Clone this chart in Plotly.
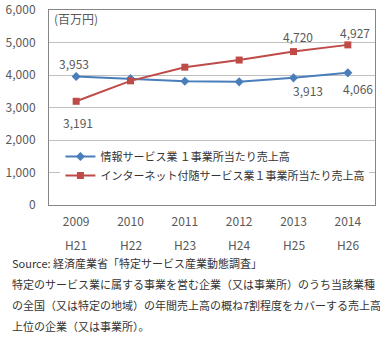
import plotly.graph_objects as go

years = ["2009", "2010", "2011", "2012", "2013", "2014"]
eras = ["H21", "H22", "H23", "H24", "H25", "H26"]
info_service = [3953, 3890, 3810, 3790, 3913, 4066]
internet_service = [3191, 3820, 4240, 4460, 4720, 4927]
info_name = "情報サービス業 １事業所当たり売上高"
internet_name = "インターネット付随サービス業１事業所当たり売上高"
source_lines = [
    "Source: 経済産業省「特定サービス産業動態調査」",
    "特定のサービス業に属する事業を営む企業（又は事業所）のうち当該業種",
    "の全国（又は特定の地域）の年間売上高の概ね7割程度をカバーする売上高",
    "上位の企業（又は事業所）。",
]

FONT = "Noto Sans CJK JP"
BLUE = "#4A7EBB"
RED = "#BE4B48"
TICK = "#595959"

TOP, BOTTOM = 10, 136
PLOT_H = 341 - TOP - BOTTOM
AXIS_Y = 341 - BOTTOM  # pixel row of the x axis

fig = go.Figure()
fig.add_trace(go.Scatter(
    x=years, y=info_service, name=info_name, mode="lines+markers",
    line=dict(color=BLUE, width=2),
    marker=dict(symbol="diamond", size=7, color=BLUE),
))
fig.add_trace(go.Scatter(
    x=years, y=internet_service, name=internet_name, mode="lines+markers",
    line=dict(color=RED, width=2),
    marker=dict(symbol="square", size=7, color=RED),
))

# value labels: (series, index, xshift, yshift); x uses the category index
labels = [
    (info_service, 0, -2, 13),
    (internet_service, 0, 2, -21),
    (internet_service, 4, 4, 15),
    (internet_service, 5, 7, 12),
    (info_service, 4, 14, -13),
    (info_service, 5, 10, -16),
]
ann = []
for series, i, dx, dy in labels:
    ann.append(dict(xref="x", yref="y", x=i, y=series[i], text=f"{series[i]:,}",
                    showarrow=False, xshift=dx, yshift=dy,
                    font=dict(family=FONT, size=12, color=TICK)))

# era row under the year ticks
for i, e in enumerate(eras):
    ann.append(dict(xref="x", yref="paper", x=i, y=(AXIS_Y - 244) / PLOT_H, text=e,
                    showarrow=False, yanchor="middle",
                    font=dict(family=FONT, size=12, color=TICK)))

ann.append(dict(xref="paper", yref="paper", x=0.01, y=(AXIS_Y - 19) / PLOT_H,
                xanchor="left", yanchor="middle", text="(百万円)", showarrow=False,
                font=dict(family=FONT, size=12, color=TICK)))

W, L = 326, 49
for k, line in enumerate(source_lines):
    ann.append(dict(xref="paper", yref="paper", x=(10 - L) / W, xanchor="left",
                    y=(AXIS_Y - (263 + 21 * k)) / PLOT_H, yanchor="middle", text=line,
                    showarrow=False, font=dict(family=FONT, size=11, color="#333333")))

fig.update_layout(
    width=380, height=341,
    margin=dict(l=49, r=5, t=TOP, b=BOTTOM),
    paper_bgcolor="white", plot_bgcolor="white",
    font=dict(family=FONT, size=12, color=TICK),
    annotations=ann,
    showlegend=True,
    legend=dict(x=0.035, y=(AXIS_Y - 142) / PLOT_H, xanchor="left", yanchor="top",
                bgcolor="white", font=dict(family=FONT, size=11, color="#333333"),
                tracegroupgap=0, itemwidth=30),
    xaxis=dict(type="category", range=[-0.5, 5.5], showline=True, mirror=True,
               linecolor="#868686", linewidth=1, showgrid=False, ticks="",
               tickfont=dict(family=FONT, size=12, color=TICK), ticklabelstandoff=6,
               automargin=False, fixedrange=True),
    yaxis=dict(range=[0, 6000], tickvals=[0, 1000, 2000, 3000, 4000, 5000, 6000],
               tickformat=",", showline=True, mirror=True, ticklabeloverflow="allow",
               linecolor="#868686", linewidth=1, gridcolor="#BFBFBF", gridwidth=1,
               ticks="", tickfont=dict(family=FONT, size=12, color=TICK),
               ticklabelstandoff=10, zeroline=False, automargin=False, fixedrange=True),
)

fig.write_html("out.html")
